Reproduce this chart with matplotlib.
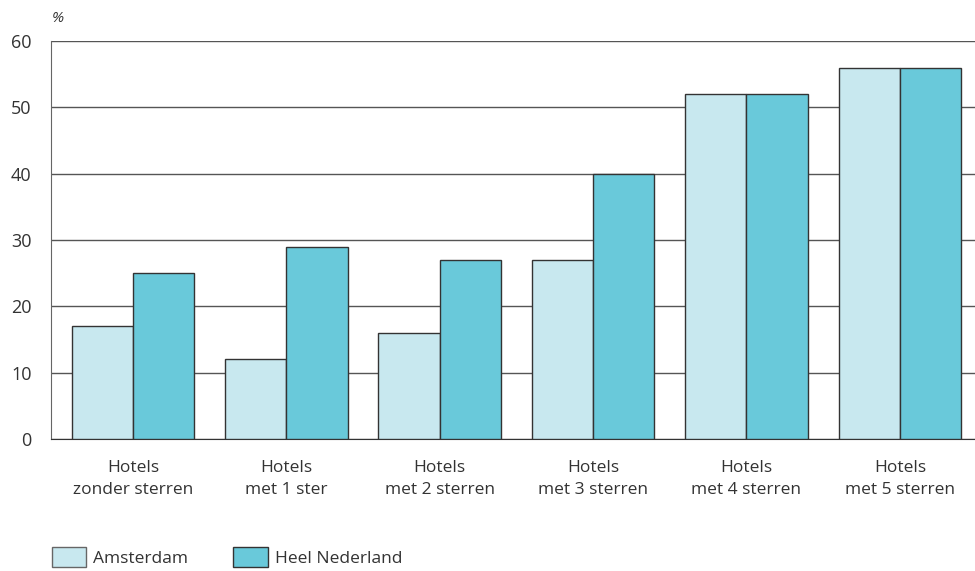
import numpy as np
import matplotlib
matplotlib.use("Agg")
import matplotlib.pyplot as plt
from matplotlib.patches import Patch

categories = [
    "Hotels\nzonder sterren",
    "Hotels\nmet 1 ster",
    "Hotels\nmet 2 sterren",
    "Hotels\nmet 3 sterren",
    "Hotels\nmet 4 sterren",
    "Hotels\nmet 5 sterren",
]
amsterdam = [17, 12, 16, 27, 52, 56]
nederland = [25, 29, 27, 40, 52, 56]
yticks = [0, 10, 20, 30, 40, 50, 60]

light = "#c8e8ef"
dark = "#69c9da"
text_col = "#333333"

plt.rcParams["font.family"] = ["Open Sans", "DejaVu Sans"]
plt.rcParams["font.size"] = 12

fig = plt.figure(figsize=(9.75, 5.71), dpi=100)
ax = fig.add_axes([51 / 975, 1 - 439 / 571, 924 / 975, 398 / 571])

x = np.arange(len(categories))
w = 0.4
ax.bar(x - w / 2, amsterdam, w, color=light, edgecolor="#333333", linewidth=1, zorder=3)
ax.bar(x + w / 2, nederland, w, color=dark, edgecolor="#333333", linewidth=1, zorder=3)

ax.set_xlim(-0.535, 5.49)
ax.set_ylim(0, 60)
ax.set_yticks(yticks)
ax.yaxis.grid(True, color="#555555", linewidth=1)
ax.set_axisbelow(True)
ax.set_xticks(x)
ax.set_xticklabels(categories, linespacing=1.55)
ax.tick_params(axis="y", length=0, pad=14, colors=text_col, labelsize=13)
ax.tick_params(axis="x", length=0, pad=15, colors=text_col, labelsize=12.5)

for s in ["top", "right"]:
    ax.spines[s].set_visible(False)
ax.spines["left"].set_color("#666666")
ax.spines["bottom"].set_color("#333333")

fig.text(52 / 975, 1 - 18 / 571, "%", ha="left", va="center", color=text_col, fontsize=11, style="italic")

handles = [
    Patch(facecolor=light, edgecolor="#666666", label="Amsterdam"),
    Patch(facecolor=dark, edgecolor="#333333", label="Heel Nederland"),
]
fig.legend(
    handles=handles,
    loc="lower left",
    bbox_to_anchor=(36 / 975, -0.02),
    ncol=2,
    frameon=False,
    handlelength=2.0,
    handleheight=1.35,
    handletextpad=0.4,
    columnspacing=2.6,
    labelcolor=text_col,
    fontsize=12.5,
)

fig.savefig("out.png", dpi=100)
